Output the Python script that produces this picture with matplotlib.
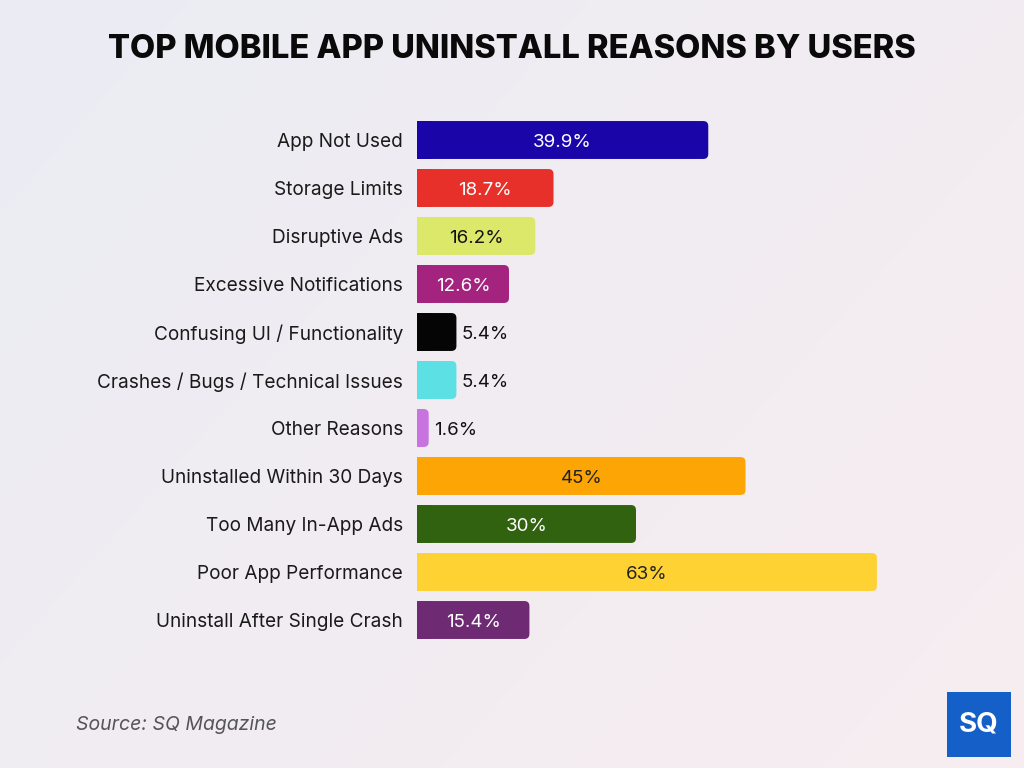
import numpy as np
import matplotlib.pyplot as plt
from matplotlib.patches import FancyBboxPatch, Rectangle

categories = ["App Not Used", "Storage Limits", "Disruptive Ads", "Excessive Notifications",
              "Confusing UI / Functionality", "Crashes / Bugs / Technical Issues", "Other Reasons",
              "Uninstalled Within 30 Days", "Too Many In-App Ads", "Poor App Performance",
              "Uninstall After Single Crash"]
values = [39.9, 18.7, 16.2, 12.6, 5.4, 5.4, 1.6, 45, 30, 63, 15.4]
labels = ["39.9%", "18.7%", "16.2%", "12.6%", "5.4%", "5.4%", "1.6%", "45%", "30%", "63%", "15.4%"]
colors = ["#1a06a8", "#e8302a", "#dbe86a", "#a3237e", "#050505", "#5ce0e4", "#c873e0",
          "#fca504", "#31620f", "#fed232", "#6e2a72"]
text_colors = ["white", "white", "#111111", "white", "#111111", "#111111", "#111111",
               "#222222", "white", "#222222", "white"]

plt.rcParams['font.family'] = ['Inter', 'DejaVu Sans']

fig = plt.figure(figsize=(10.24, 7.68), dpi=100)

# background gradient
bg = fig.add_axes([0, 0, 1, 1])
xx = np.linspace(0, 1, 256)
yy = np.linspace(0, 1, 256)
X, Y = np.meshgrid(xx, yy)
c1 = np.array([0.92, 0.925, 0.955])
c2 = np.array([0.97, 0.93, 0.945])
t = (0.6 * X + 0.4 * (1 - Y))[..., None]
img = c1 * (1 - t) + c2 * t
bg.imshow(img, extent=[0, 1, 0, 1], aspect='auto', origin='lower')
bg.axis('off')

n = len(categories)
ax = fig.add_axes([417 / 1024, 1 - 650 / 768, 511 / 1024, 540 / 768])
ax.set_facecolor('none')
ypos = np.arange(n)[::-1]
bars = ax.barh(ypos, values, height=0.79, color=colors)
ax.set_xlim(0, 70)
ax.set_ylim(-0.625, n - 1 + 0.625)

# rounded right ends
px_x = 70 / 511
px_y = (n - 1 + 1.25) / 540
r = 5 * px_x
for b, c in zip(bars, colors):
    b.set_visible(False)
    x0, y0, w, h = b.get_x(), b.get_y(), b.get_width(), b.get_height()
    ax.add_patch(FancyBboxPatch((x0, y0), w, h, boxstyle=f"round,pad=0,rounding_size={r}",
                                mutation_aspect=px_y / px_x, fc=c, ec='none'))
    ax.add_patch(Rectangle((x0, y0), min(w / 2, 2), h, fc=c, ec='none'))

for yp, v, lab, tc in zip(ypos, values, labels, text_colors):
    if v > 10:
        ax.text(v / 2, yp - 0.05, lab, ha='center', va='center', color=tc, fontsize=13.5)
    else:
        ax.text(v + 0.7, yp - 0.05, lab, ha='left', va='center', color=tc, fontsize=13.5)

ax.set_yticks(ypos)
ax.set_yticklabels(categories, fontsize=13.7, color='#1a1a1a')
ax.tick_params(axis='y', length=0, pad=10)
ax.set_xticks([])
for s in ax.spines.values():
    s.set_visible(False)

fig.text(0.5, 1 - 50 / 768, "TOP MOBILE APP UNINSTALL REASONS BY USERS", ha='center', va='center',
         fontsize=23.5, fontweight='heavy', color='#0a0a0a')
fig.text(76 / 1024, 1 - 725 / 768, "Source: SQ Magazine", ha='left', va='center',
         fontsize=14, style='italic', color='#555555')

# logo
lax = fig.add_axes([947 / 1024, 1 - 757 / 768, 64 / 1024, 65 / 768])
lax.add_patch(Rectangle((0, 0), 1, 1, fc='#1560c8', ec='none'))
lax.text(0.5, 0.5, "SQ", ha='center', va='center', color='white', fontsize=20, fontweight='bold')
lax.set_xlim(0, 1)
lax.set_ylim(0, 1)
lax.axis('off')

fig.savefig("out.png", dpi=100)
